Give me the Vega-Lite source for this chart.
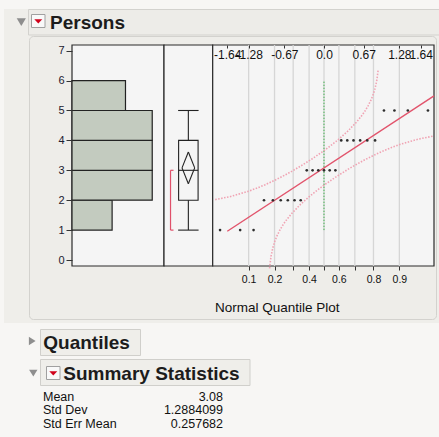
{
  "$schema": "https://vega.github.io/schema/vega-lite/v6.json",
  "width": 439,
  "height": 437,
  "autosize": {"type": "none"},
  "padding": 0,
  "background": "#f7f6f4",
  "config": {"view": {"stroke": null}, "font": "Liberation Sans"},
  "resolve": {"scale": {"x": "independent", "y": "independent"}, "axis": {"x": "independent", "y": "independent"}},
  "datasets": {
    "hist": [
      {"lo": 1, "hi": 2, "count": 3},
      {"lo": 2, "hi": 3, "count": 6},
      {"lo": 3, "hi": 4, "count": 6},
      {"lo": 4, "hi": 5, "count": 6},
      {"lo": 5, "hi": 6, "count": 4}
    ],
    "box": [
      {"min": 1, "q1": 2, "median": 3, "q3": 4, "max": 5, "mean": 3.08, "lo95": 2.548, "hi95": 3.612, "short_lo": 1, "short_hi": 3}
    ],
    "points": [
      {"z": -1.768, "persons": 1}, {"z": -1.426, "persons": 1}, {"z": -1.198, "persons": 1},
      {"z": -1.02, "persons": 2}, {"z": -0.869, "persons": 2}, {"z": -0.736, "persons": 2},
      {"z": -0.615, "persons": 2}, {"z": -0.502, "persons": 2}, {"z": -0.396, "persons": 2},
      {"z": -0.293, "persons": 3}, {"z": -0.194, "persons": 3}, {"z": -0.097, "persons": 3},
      {"z": 0, "persons": 3}, {"z": 0.097, "persons": 3}, {"z": 0.194, "persons": 3},
      {"z": 0.293, "persons": 4}, {"z": 0.396, "persons": 4}, {"z": 0.502, "persons": 4},
      {"z": 0.615, "persons": 4}, {"z": 0.736, "persons": 4}, {"z": 0.869, "persons": 4},
      {"z": 1.02, "persons": 5}, {"z": 1.198, "persons": 5}, {"z": 1.426, "persons": 5}, {"z": 1.768, "persons": 5}
    ],
    "fit": [{"z": -1.645, "persons": 0.961}, {"z": 1.871, "persons": 5.491}],
    "upper": [
      {"z": -1.85, "persons": 2.02}, {"z": -1.6, "persons": 2.119}, {"z": -1.3, "persons": 2.29},
      {"z": -1.15, "persons": 2.397}, {"z": -1.0, "persons": 2.519}, {"z": -0.85, "persons": 2.655},
      {"z": -0.7, "persons": 2.803}, {"z": -0.55, "persons": 2.964}, {"z": -0.4, "persons": 3.137},
      {"z": -0.2, "persons": 3.386}, {"z": 0, "persons": 3.657}, {"z": 0.1, "persons": 3.804},
      {"z": 0.2, "persons": 3.959}, {"z": 0.3, "persons": 4.124}, {"z": 0.4, "persons": 4.301},
      {"z": 0.55, "persons": 4.605}, {"z": 0.65, "persons": 4.849}, {"z": 0.7, "persons": 4.991},
      {"z": 0.75, "persons": 5.156}, {"z": 0.8, "persons": 5.353}, {"z": 0.84, "persons": 5.552},
      {"z": 0.87, "persons": 5.747}, {"z": 0.9, "persons": 6.027}, {"z": 0.92, "persons": 6.333}
    ],
    "lower": [
      {"z": -0.925, "persons": -0.28}, {"z": -0.92, "persons": -0.173}, {"z": -0.9, "persons": 0.133},
      {"z": -0.87, "persons": 0.413}, {"z": -0.84, "persons": 0.608}, {"z": -0.8, "persons": 0.807},
      {"z": -0.75, "persons": 1.004}, {"z": -0.7, "persons": 1.169}, {"z": -0.65, "persons": 1.311},
      {"z": -0.55, "persons": 1.555}, {"z": -0.4, "persons": 1.859}, {"z": -0.3, "persons": 2.036},
      {"z": -0.2, "persons": 2.201}, {"z": -0.1, "persons": 2.356}, {"z": 0, "persons": 2.503},
      {"z": 0.2, "persons": 2.774}, {"z": 0.4, "persons": 3.023}, {"z": 0.55, "persons": 3.196},
      {"z": 0.7, "persons": 3.357}, {"z": 0.85, "persons": 3.505}, {"z": 1.0, "persons": 3.641},
      {"z": 1.15, "persons": 3.763}, {"z": 1.3, "persons": 3.87}, {"z": 1.6, "persons": 4.041},
      {"z": 1.85, "persons": 4.14}
    ],
    "pticks": [
      {"p": 0.1, "z": -1.2816}, {"p": 0.2, "z": -0.8416}, {"p": 0.3, "z": -0.5244},
      {"p": 0.4, "z": -0.2533}, {"p": 0.5, "z": 0}, {"p": 0.6, "z": 0.2533},
      {"p": 0.7, "z": 0.5244}, {"p": 0.8, "z": 0.8416}, {"p": 0.9, "z": 1.2816}
    ],
    "stats": [
      {"stat": "Mean", "value": "3.08"},
      {"stat": "Std Dev", "value": "1.2884099"},
      {"stat": "Std Err Mean", "value": "0.257682"}
    ]
  },
  "layer": [
    {"data": {"values": [{}]}, "mark": {"type": "rect", "fill": "#efeeea"},
     "encoding": {"x": {"value": 4}, "x2": {"value": 439}, "y": {"value": 9}, "y2": {"value": 323}}},
    {"data": {"values": [{}]}, "mark": {"type": "rect", "fill": "#edece8", "stroke": "#d3d2ce", "strokeWidth": 1},
     "encoding": {"x": {"value": 28.5}, "x2": {"value": 441}, "y": {"value": 9.5}, "y2": {"value": 35}}},
    {"data": {"values": [{}]}, "mark": {"type": "rect", "fill": "#eeede9", "stroke": "#d3d2ce", "strokeWidth": 1, "cornerRadius": 4},
     "encoding": {"x": {"value": 29.5}, "x2": {"value": 436.5}, "y": {"value": 36.5}, "y2": {"value": 319.5}}},
    {"data": {"values": [{}]}, "mark": {"type": "rect", "fill": "#efeeea", "stroke": "#d0cfcb", "strokeWidth": 1},
     "encoding": {"x": {"value": 40.5}, "x2": {"value": 140.5}, "y": {"value": 329.5}, "y2": {"value": 355.5}}},
    {"data": {"values": [{}]}, "mark": {"type": "rect", "fill": "#efeeea", "stroke": "#d0cfcb", "strokeWidth": 1},
     "encoding": {"x": {"value": 40.5}, "x2": {"value": 250}, "y": {"value": 359.5}, "y2": {"value": 385.5}}},
    {"data": {"values": [{}]}, "mark": {"type": "rect", "fill": "#f9f9f9", "stroke": "#a0a0a0", "strokeWidth": 1},
     "encoding": {"x": {"value": 31.5}, "x2": {"value": 45}, "y": {"value": 14.5}, "y2": {"value": 27.5}}},
    {"data": {"values": [{}]}, "mark": {"type": "rect", "fill": "#f9f9f9", "stroke": "#a0a0a0", "strokeWidth": 1},
     "encoding": {"x": {"value": 46.5}, "x2": {"value": 60}, "y": {"value": 366.5}, "y2": {"value": 379.5}}},
    {"data": {"values": [{}]}, "mark": {"type": "point", "filled": true, "color": "#d0021b", "opacity": 1, "size": 64, "shape": "M-1,-0.5L1,-0.5L0,0.55Z"},
     "encoding": {"x": {"value": 38.3}, "y": {"value": 21.2}}},
    {"data": {"values": [{}]}, "mark": {"type": "point", "filled": true, "color": "#d0021b", "opacity": 1, "size": 64, "shape": "M-1,-0.5L1,-0.5L0,0.55Z"},
     "encoding": {"x": {"value": 53.3}, "y": {"value": 373.2}}},
    {"data": {"values": [{}]}, "mark": {"type": "point", "filled": true, "color": "#8e8e8e", "opacity": 1, "size": 84, "shape": "M-1,-0.8L1,-0.8L0,0.85Z"},
     "encoding": {"x": {"value": 21.3}, "y": {"value": 22}}},
    {"data": {"values": [{}]}, "mark": {"type": "point", "filled": true, "color": "#8e8e8e", "opacity": 1, "size": 70, "shape": "M-0.75,-1L0.85,0L-0.75,1Z"},
     "encoding": {"x": {"value": 32}, "y": {"value": 341}}},
    {"data": {"values": [{}]}, "mark": {"type": "point", "filled": true, "color": "#8e8e8e", "opacity": 1, "size": 70, "shape": "M-1,-0.8L1,-0.8L0,0.85Z"},
     "encoding": {"x": {"value": 33.3}, "y": {"value": 373}}},
    {"data": {"values": [{}]}, "mark": {"type": "text", "align": "left", "baseline": "alphabetic", "fontSize": 19, "fontWeight": "bold", "color": "#1c1c1c", "font": "Liberation Sans"},
     "encoding": {"x": {"value": 50}, "y": {"value": 29.3}, "text": {"value": "Persons"}}},
    {"data": {"values": [{}]}, "mark": {"type": "text", "align": "left", "baseline": "alphabetic", "fontSize": 19, "fontWeight": "bold", "color": "#1c1c1c", "font": "Liberation Sans"},
     "encoding": {"x": {"value": 43.3}, "y": {"value": 348.5}, "text": {"value": "Quantiles"}}},
    {"data": {"values": [{}]}, "mark": {"type": "text", "align": "left", "baseline": "alphabetic", "fontSize": 19, "fontWeight": "bold", "color": "#1c1c1c", "font": "Liberation Sans"},
     "encoding": {"x": {"value": 63.3}, "y": {"value": 379.5}, "text": {"value": "Summary Statistics"}}},
    {"data": {"name": "stats"}, "mark": {"type": "text", "align": "left", "baseline": "alphabetic", "fontSize": 12.5, "color": "#111111", "font": "Liberation Sans"},
     "encoding": {"x": {"value": 43}, "y": {"field": "stat", "type": "ordinal", "scale": {"type": "point", "domain": ["Mean", "Std Dev", "Std Err Mean"], "range": [400.7, 427.7], "padding": 0}, "axis": null}, "text": {"field": "stat"}}},
    {"data": {"name": "stats"}, "mark": {"type": "text", "align": "right", "baseline": "alphabetic", "fontSize": 12.5, "color": "#111111", "font": "Liberation Sans"},
     "encoding": {"x": {"value": 223}, "y": {"field": "stat", "type": "ordinal", "scale": {"type": "point", "domain": ["Mean", "Std Dev", "Std Err Mean"], "range": [400.7, 427.7], "padding": 0}, "axis": null}, "text": {"field": "value"}}},

    {"data": {"values": [{}]}, "mark": {"type": "rect", "fill": "#f5f5f5", "stroke": "#2b2b2b", "strokeWidth": 1.2},
     "encoding": {"x": {"datum": 0, "scale": {"domain": [0, 6.88], "range": [72, 164], "nice": false, "zero": false}, "axis": null}, "x2": {"datum": 6.88},
                  "y": {"datum": -0.2, "scale": {"domain": [-0.2, 7.19], "range": [266, 45], "nice": false, "zero": false}, "axis": null}, "y2": {"datum": 7.19}}},
    {"data": {"name": "hist"}, "mark": {"type": "rect", "fill": "#c3cbbf", "stroke": "#222222", "strokeWidth": 1.2},
     "encoding": {"x": {"field": "count", "type": "quantitative", "scale": {"domain": [0, 6.88], "range": [72, 164], "nice": false, "zero": false}, "axis": null}, "x2": {"datum": 0},
                  "y": {"field": "lo", "type": "quantitative", "scale": {"domain": [-0.2, 7.19], "range": [266, 45], "nice": false, "zero": false},
                        "axis": {"orient": "left", "offset": -72, "values": [0, 1, 2, 3, 4, 5, 6, 7], "format": "d", "tickSize": 6, "tickColor": "#333333", "tickWidth": 1, "labelPadding": 2, "labelFontSize": 11, "labelColor": "#1b2030", "labelFont": "Liberation Sans", "domain": false, "grid": false, "title": null, "zindex": 2}},
                  "y2": {"field": "hi"}}},

    {"data": {"values": [{}]}, "mark": {"type": "rect", "fill": "#f5f5f5", "stroke": "#2b2b2b", "strokeWidth": 1.2},
     "encoding": {"x": {"datum": 0, "scale": {"domain": [0, 1], "range": [164, 212.7], "nice": false, "zero": false}, "axis": null}, "x2": {"datum": 1},
                  "y": {"datum": -0.2, "scale": {"domain": [-0.2, 7.19], "range": [266, 45], "nice": false, "zero": false}, "axis": null}, "y2": {"datum": 7.19}}},
    {"data": {"name": "box"}, "mark": {"type": "rule", "color": "#222222", "strokeWidth": 1.1},
     "encoding": {"x": {"datum": 0.5, "scale": {"domain": [0, 1], "range": [164, 212.7], "nice": false, "zero": false}, "axis": null},
                  "y": {"field": "min", "type": "quantitative", "scale": {"domain": [-0.2, 7.19], "range": [266, 45], "nice": false, "zero": false}, "axis": null}, "y2": {"field": "q1"}}},
    {"data": {"name": "box"}, "mark": {"type": "rule", "color": "#222222", "strokeWidth": 1.1},
     "encoding": {"x": {"datum": 0.5, "scale": {"domain": [0, 1], "range": [164, 212.7], "nice": false, "zero": false}, "axis": null},
                  "y": {"field": "q3", "type": "quantitative", "scale": {"domain": [-0.2, 7.19], "range": [266, 45], "nice": false, "zero": false}, "axis": null}, "y2": {"field": "max"}}},
    {"data": {"name": "box"}, "mark": {"type": "rule", "color": "#222222", "strokeWidth": 1.1},
     "encoding": {"x": {"datum": 0.29, "scale": {"domain": [0, 1], "range": [164, 212.7], "nice": false, "zero": false}, "axis": null}, "x2": {"datum": 0.71},
                  "y": {"field": "min", "type": "quantitative", "scale": {"domain": [-0.2, 7.19], "range": [266, 45], "nice": false, "zero": false}, "axis": null}}},
    {"data": {"name": "box"}, "mark": {"type": "rule", "color": "#222222", "strokeWidth": 1.1},
     "encoding": {"x": {"datum": 0.29, "scale": {"domain": [0, 1], "range": [164, 212.7], "nice": false, "zero": false}, "axis": null}, "x2": {"datum": 0.71},
                  "y": {"field": "max", "type": "quantitative", "scale": {"domain": [-0.2, 7.19], "range": [266, 45], "nice": false, "zero": false}, "axis": null}}},
    {"data": {"name": "box"}, "mark": {"type": "rect", "filled": false, "stroke": "#222222", "strokeWidth": 1.1},
     "encoding": {"x": {"datum": 0.3, "scale": {"domain": [0, 1], "range": [164, 212.7], "nice": false, "zero": false}, "axis": null}, "x2": {"datum": 0.7},
                  "y": {"field": "q1", "type": "quantitative", "scale": {"domain": [-0.2, 7.19], "range": [266, 45], "nice": false, "zero": false}, "axis": null}, "y2": {"field": "q3"}}},
    {"data": {"name": "box"}, "mark": {"type": "rule", "color": "#222222", "strokeWidth": 1.1},
     "encoding": {"x": {"datum": 0.3, "scale": {"domain": [0, 1], "range": [164, 212.7], "nice": false, "zero": false}, "axis": null}, "x2": {"datum": 0.7},
                  "y": {"field": "median", "type": "quantitative", "scale": {"domain": [-0.2, 7.19], "range": [266, 45], "nice": false, "zero": false}, "axis": null}}},
    {"data": {"name": "box"}, "mark": {"type": "rule", "color": "#222222", "strokeWidth": 1.1},
     "encoding": {"x": {"datum": 0.5, "scale": {"domain": [0, 1], "range": [164, 212.7], "nice": false, "zero": false}, "axis": null}, "x2": {"datum": 0.63},
                  "y": {"field": "hi95", "type": "quantitative", "scale": {"domain": [-0.2, 7.19], "range": [266, 45], "nice": false, "zero": false}, "axis": null}, "y2": {"field": "mean"}}},
    {"data": {"name": "box"}, "mark": {"type": "rule", "color": "#222222", "strokeWidth": 1.1},
     "encoding": {"x": {"datum": 0.63, "scale": {"domain": [0, 1], "range": [164, 212.7], "nice": false, "zero": false}, "axis": null}, "x2": {"datum": 0.5},
                  "y": {"field": "mean", "type": "quantitative", "scale": {"domain": [-0.2, 7.19], "range": [266, 45], "nice": false, "zero": false}, "axis": null}, "y2": {"field": "lo95"}}},
    {"data": {"name": "box"}, "mark": {"type": "rule", "color": "#222222", "strokeWidth": 1.1},
     "encoding": {"x": {"datum": 0.5, "scale": {"domain": [0, 1], "range": [164, 212.7], "nice": false, "zero": false}, "axis": null}, "x2": {"datum": 0.37},
                  "y": {"field": "lo95", "type": "quantitative", "scale": {"domain": [-0.2, 7.19], "range": [266, 45], "nice": false, "zero": false}, "axis": null}, "y2": {"field": "mean"}}},
    {"data": {"name": "box"}, "mark": {"type": "rule", "color": "#222222", "strokeWidth": 1.1},
     "encoding": {"x": {"datum": 0.37, "scale": {"domain": [0, 1], "range": [164, 212.7], "nice": false, "zero": false}, "axis": null}, "x2": {"datum": 0.5},
                  "y": {"field": "mean", "type": "quantitative", "scale": {"domain": [-0.2, 7.19], "range": [266, 45], "nice": false, "zero": false}, "axis": null}, "y2": {"field": "hi95"}}},
    {"data": {"name": "box"}, "mark": {"type": "rule", "color": "#e0506a", "strokeWidth": 1.2},
     "encoding": {"x": {"datum": 0.134, "scale": {"domain": [0, 1], "range": [164, 212.7], "nice": false, "zero": false}, "axis": null},
                  "y": {"field": "short_lo", "type": "quantitative", "scale": {"domain": [-0.2, 7.19], "range": [266, 45], "nice": false, "zero": false}, "axis": null}, "y2": {"field": "short_hi"}}},
    {"data": {"name": "box"}, "mark": {"type": "rule", "color": "#e0506a", "strokeWidth": 1.2},
     "encoding": {"x": {"datum": 0.134, "scale": {"domain": [0, 1], "range": [164, 212.7], "nice": false, "zero": false}, "axis": null}, "x2": {"datum": 0.195},
                  "y": {"field": "short_lo", "type": "quantitative", "scale": {"domain": [-0.2, 7.19], "range": [266, 45], "nice": false, "zero": false}, "axis": null}}},
    {"data": {"name": "box"}, "mark": {"type": "rule", "color": "#e0506a", "strokeWidth": 1.2},
     "encoding": {"x": {"datum": 0.134, "scale": {"domain": [0, 1], "range": [164, 212.7], "nice": false, "zero": false}, "axis": null}, "x2": {"datum": 0.195},
                  "y": {"field": "short_hi", "type": "quantitative", "scale": {"domain": [-0.2, 7.19], "range": [266, 45], "nice": false, "zero": false}, "axis": null}}},

    {"data": {"values": [{}]}, "mark": {"type": "rect", "fill": "#f5f5f5", "stroke": "#2b2b2b", "strokeWidth": 1.2},
     "encoding": {"x": {"datum": -1.893, "scale": {"domain": [-1.893, 1.871], "range": [212.7, 434], "nice": false, "zero": false}, "axis": null}, "x2": {"datum": 1.871},
                  "y": {"datum": -0.2, "scale": {"domain": [-0.2, 7.19], "range": [266, 45], "nice": false, "zero": false}, "axis": null}, "y2": {"datum": 7.19}}},
    {"data": {"name": "pticks"}, "mark": {"type": "rule", "color": "#d6d6d6", "strokeWidth": 1.3},
     "encoding": {"x": {"field": "z", "type": "quantitative", "scale": {"domain": [-1.893, 1.871], "range": [212.7, 434], "nice": false, "zero": false},
                        "axis": {"orient": "bottom", "offset": -171, "values": [-1.2816, -0.8416, -0.5244, -0.2533, 0, 0.2533, 0.5244, 0.8416, 1.2816],
                                 "labelExpr": "datum.value < -1 ? '0.1' : datum.value < -0.7 ? '0.2' : datum.value < -0.4 ? '' : datum.value < -0.1 ? '0.4' : datum.value < 0.1 ? '' : datum.value < 0.4 ? '0.6' : datum.value < 0.7 ? '' : datum.value < 1 ? '0.8' : '0.9'",
                                 "tickSize": 4, "tickColor": "#333333", "tickWidth": 1, "labelPadding": 4, "labelFontSize": 10.5, "labelColor": "#111111", "labelFont": "Liberation Sans",
                                 "labelOverlap": false, "labelBound": false, "labelFlush": false, "domain": false, "grid": false,
                                 "title": "Normal Quantile Plot", "titleX": 276.7, "titleY": 45, "titleAlign": "center", "titleBaseline": "alphabetic",
                                 "titleFontSize": 13.5, "titleFontWeight": "normal", "titleColor": "#111111", "titleFont": "Liberation Sans", "zindex": 2}},
                  "y": {"datum": -0.2, "scale": {"domain": [-0.2, 7.19], "range": [266, 45], "nice": false, "zero": false}, "axis": null}, "y2": {"datum": 7.19}}},
    {"data": {"values": [{}]}, "mark": {"type": "rule", "color": "#3db04b", "strokeWidth": 1, "strokeDash": [1.5, 1.5]},
     "encoding": {"x": {"datum": 0, "scale": {"domain": [-1.893, 1.871], "range": [212.7, 434], "nice": false, "zero": false}, "axis": null},
                  "y": {"datum": 1, "scale": {"domain": [-0.2, 7.19], "range": [266, 45], "nice": false, "zero": false}, "axis": null}, "y2": {"datum": 6}}},
    {"data": {"name": "upper"}, "mark": {"type": "line", "color": "#f0a3b3", "strokeWidth": 1.6, "strokeDash": [1.5, 1.5], "clip": true},
     "encoding": {"x": {"field": "z", "type": "quantitative", "scale": {"domain": [-1.893, 1.871], "range": [212.7, 434], "nice": false, "zero": false}, "axis": null},
                  "y": {"field": "persons", "type": "quantitative", "scale": {"domain": [-0.2, 7.19], "range": [266, 45], "nice": false, "zero": false}, "axis": null}}},
    {"data": {"name": "lower"}, "mark": {"type": "line", "color": "#f0a3b3", "strokeWidth": 1.6, "strokeDash": [1.5, 1.5], "clip": true},
     "encoding": {"x": {"field": "z", "type": "quantitative", "scale": {"domain": [-1.893, 1.871], "range": [212.7, 434], "nice": false, "zero": false}, "axis": null},
                  "y": {"field": "persons", "type": "quantitative", "scale": {"domain": [-0.2, 7.19], "range": [266, 45], "nice": false, "zero": false}, "axis": null}}},
    {"data": {"name": "fit"}, "mark": {"type": "line", "color": "#e2546c", "strokeWidth": 1.4},
     "encoding": {"x": {"field": "z", "type": "quantitative", "scale": {"domain": [-1.893, 1.871], "range": [212.7, 434], "nice": false, "zero": false}, "axis": null},
                  "y": {"field": "persons", "type": "quantitative", "scale": {"domain": [-0.2, 7.19], "range": [266, 45], "nice": false, "zero": false}, "axis": null}}},
    {"data": {"name": "points"}, "mark": {"type": "point", "filled": true, "size": 7, "color": "#2d2d2d", "opacity": 1},
     "encoding": {"x": {"field": "z", "type": "quantitative", "scale": {"domain": [-1.893, 1.871], "range": [212.7, 434], "nice": false, "zero": false},
                        "axis": {"orient": "bottom", "offset": -392, "values": [-1.6449, -1.2816, -0.6745, 0, 0.6745, 1.2816, 1.6449],
                                 "labelExpr": "datum.value == 0 ? '0.0' : (datum.value < 0 ? '-' : '') + format(abs(datum.value), '.2f')",
                                 "tickSize": 3, "tickColor": "#333333", "tickWidth": 1, "labelPadding": 1, "labelFontSize": 12, "labelColor": "#111111", "labelFont": "Liberation Sans",
                                 "labelOverlap": false, "labelBound": false, "labelFlush": false, "domain": false, "grid": false, "title": null, "zindex": 2}},
                  "y": {"field": "persons", "type": "quantitative", "scale": {"domain": [-0.2, 7.19], "range": [266, 45], "nice": false, "zero": false}, "axis": null}}}
  ]
}
